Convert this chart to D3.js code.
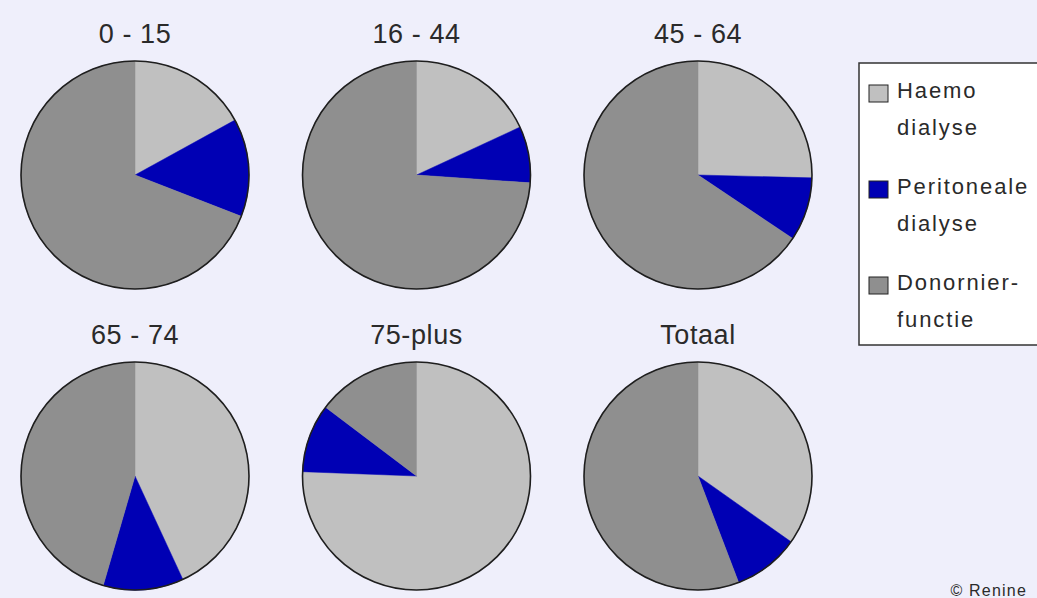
<!DOCTYPE html>
<html>
<head>
<meta charset="utf-8">
<script src="https://cdn.jsdelivr.net/npm/d3@7"></script>
<style>
  html, body { margin: 0; padding: 0; background: #efeffb; }
  svg { display: block; }
  text { font-family: "Liberation Sans", Arial, sans-serif; fill: #2a2a2a; }
</style>
</head>
<body>
<svg id="chart" width="1037" height="598"></svg>
<script>
// Age groups and the share (%) of each treatment type per group
const groups = ["0 - 15", "16 - 44", "45 - 64", "65 - 74", "75-plus", "Totaal"];
const haemo = [17.0, 18.1, 25.4, 43.1, 75.6, 34.8];
const peritoneale = [13.9, 8.0, 9.0, 11.4, 9.7, 9.4];
const donor = [69.1, 73.9, 65.6, 45.5, 14.7, 55.8];

const seriesNames = ["Haemo dialyse", "Peritoneale dialyse", "Donornier-functie"];
const legendLines = [["Haemo", "dialyse"], ["Peritoneale", "dialyse"], ["Donornier-", "functie"]];
const colors = ["#c0c0c0", "#0000b4", "#8f8f8f"];
const credit = "\u00a9 Renine";

const W = 1037, H = 598;
const svg = d3.select("#chart");

svg.append("rect").attr("width", W).attr("height", H).attr("fill", "#efeffb");

const color = d3.scaleOrdinal().domain(seriesNames).range(colors);

// Grid placement of the small multiples
const col = d3.scalePoint().domain([0, 1, 2]).range([135, 698]);
const row = d3.scalePoint().domain([0, 1]).range([175, 476]);
const radius = 114;

const pie = d3.pie().sort(null).value(d => d.value);
const arc = d3.arc().innerRadius(0).outerRadius(radius);

groups.forEach((g, i) => {
  const cx = col(i % 3), cy = row(Math.floor(i / 3));
  const data = [
    { key: seriesNames[0], value: haemo[i] },
    { key: seriesNames[1], value: peritoneale[i] },
    { key: seriesNames[2], value: donor[i] }
  ];
  const gEl = svg.append("g").attr("transform", `translate(${cx},${cy})`);

  gEl.selectAll("path.slice")
    .data(pie(data))
    .join("path")
    .attr("class", "slice")
    .attr("d", arc)
    .attr("fill", d => color(d.data.key))
    .attr("stroke", d => color(d.data.key))
    .attr("stroke-width", 0.5);

  gEl.append("circle")
    .attr("r", radius)
    .attr("fill", "none")
    .attr("stroke", "#1e1e1e")
    .attr("stroke-width", 1.6);

  gEl.append("text")
    .attr("x", 0)
    .attr("y", -radius - 18)
    .attr("text-anchor", "middle")
    .attr("font-size", 27)
    .attr("letter-spacing", 0.6)
    .attr("fill", "#333")
    .text(g);
});

// Legend
const legend = svg.append("g");
legend.append("rect")
  .attr("x", 859).attr("y", 63)
  .attr("width", 200).attr("height", 282)
  .attr("fill", "#ffffff")
  .attr("stroke", "#333")
  .attr("stroke-width", 1.5);

const legendY = d3.scaleLinear().domain([0, 1]).range([98, 194]);
seriesNames.forEach((name, k) => {
  const by = legendY(k);
  legend.append("rect")
    .attr("x", 869).attr("y", by - 13)
    .attr("width", 19).attr("height", 17)
    .attr("fill", color(name))
    .attr("stroke", "#222")
    .attr("stroke-width", 1);
  legendLines[k].forEach((line, j) => {
    legend.append("text")
      .attr("x", 897)
      .attr("y", by + j * 37)
      .attr("font-size", 22)
      .attr("letter-spacing", 1.9)
      .text(line);
  });
});

svg.append("text")
  .attr("x", 1027).attr("y", 596)
  .attr("text-anchor", "end")
  .attr("font-size", 16)
  .attr("letter-spacing", 1.2)
  .text(credit);
</script>
</body>
</html>
